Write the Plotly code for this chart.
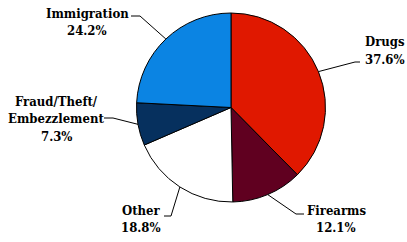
import math
import plotly.graph_objects as go

categories = ["Drugs", "Firearms", "Other", "Fraud/Theft/<br>Embezzlement", "Immigration"]
label_lines = [["Drugs"], ["Firearms"], ["Other"], ["Fraud/Theft/", "Embezzlement"], ["Immigration"]]
values = [37.6, 12.1, 18.8, 7.3, 24.2]
colors = ["#E01800", "#600020", "#FFFFFF", "#06305E", "#0B84E3"]

W, H = 407, 242
CX, CY, R = 231.0, 107.5, 94.5

def px(x):
    return x / W

def py(y):
    return (H - y) / H

fig = go.Figure()
fig.add_trace(go.Pie(
    labels=categories, values=values, sort=False, direction="clockwise", rotation=0,
    marker=dict(colors=colors, line=dict(color="#000000", width=1)),
    textinfo="none", hoverinfo="label+percent", showlegend=False,
    domain=dict(x=[px(CX - R), px(CX + R)], y=[py(CY + R), py(CY - R)]),
))

# leader elbow, leader end, text centre x, first baseline y (pixels)
layout_spec = [
    dict(elbow=(355, 62), end=(360, 62), tx=385, ty=47),
    dict(elbow=(296, 214), end=(304, 214), tx=336, ty=215),
    dict(elbow=(171, 216), end=(164, 216), tx=141, ty=215),
    dict(elbow=(113, 118), end=(104, 118), tx=56, ty=106),
    dict(elbow=(140, 16), end=(131, 16), tx=87, ty=18),
]
font = dict(family="DejaVu Serif Condensed", size=13, color="#000000", weight="bold")

total = sum(values)
cum = 0.0
LS = 17.5
for i, v in enumerate(values):
    mid = (cum + v / 2) / total * 2 * math.pi
    cum += v
    ex = CX + R * math.sin(mid)
    ey = CY - R * math.cos(mid)
    spec = layout_spec[i]
    (bx, by), (dx, dy) = spec["elbow"], spec["end"]
    fig.add_shape(type="path", xref="paper", yref="paper",
                  path=f"M {px(ex)} {py(ey)} L {px(bx)} {py(by)} L {px(dx)} {py(dy)}",
                  line=dict(color="#000000", width=1))
    lines = label_lines[i] + [f"{v:.1f}%"]
    for j, t in enumerate(lines):
        base = spec["ty"] + j * LS
        fig.add_annotation(x=px(spec["tx"]), y=py(base - 5), xref="paper", yref="paper",
                           text=t, showarrow=False, xanchor="center", yanchor="middle",
                           font=font)

fig.update_layout(width=W, height=H, margin=dict(l=0, r=0, t=0, b=0),
                  paper_bgcolor="white", plot_bgcolor="white")
fig.write_html("out.html", config={"displayModeBar": False},
               post_script="document.body.style.margin='0';document.body.style.overflow='hidden';")
